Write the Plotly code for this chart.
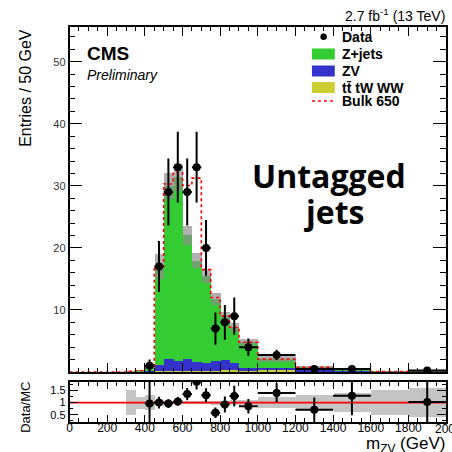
import plotly.graph_objects as go

W = H = 452

# ---------------- data ----------------
edges = [0, 50, 100, 150, 200, 250, 300, 350, 400, 450, 500, 550, 600, 650, 700,
         750, 800, 850, 900, 1000, 1200, 1400, 1600, 1800, 2000]
ttbar = [0, 0, 0, 0, 0, 0, 0.03, 0.04, 0.1, 0.1, 0.1, 0.15, 0.15, 0.15, 0.2,
         0.2, 0.4, 0.4, 0.15, 0.25, 0.1, 0.05, 0.02, 0.02]
zv = [0, 0, 0, 0, 0, 0, 0.02, 0.04, 0.1, 1.0, 2.0, 1.7, 1.9, 1.4, 1.3,
      1.5, 1.5, 1.1, 0.5, 0.35, 0.25, 0.15, 0.02, 0.04]
zjets = [0, 0, 0, 0, 0, 0, 0.05, 0.12, 0.7, 15.9, 27.9, 29.5, 20.0, 16.4, 13.9,
         10.1, 7.1, 5.7, 4.15, 1.5, 0.4, 0.25, 0.04, 0.14]
bulk650 = [0, 0, 0, 0, 0, 0, 0, 0, 0, 0, 0.3, 0.8, 8.0, 13.3, 1.1,
           0.2, 0, 0, 0, 0, 0, 0, 0, 0]
mc_unc = [0, 0, 0, 0, 0, 0, 0.5, 0.25, 0.3, 0.12, 0.07, 0.07, 0.07, 0.07, 0.07,
          0.08, 0.08, 0.1, 0.1, 0.22, 0.3, 0.4, 0.5, 0.6]

data_x = [425, 475, 525, 575, 625, 675, 725, 775, 825, 875, 950, 1100, 1300, 1500, 1900]
data_xerr = [25, 25, 25, 25, 25, 25, 25, 25, 25, 25, 50, 100, 100, 100, 100]
data_y = [1, 17, 29, 33, 29, 33, 20, 7, 8, 9, 4, 2.75, 0.5, 0.5, 0.25]
data_yerr = [1, 4.1, 5.4, 5.7, 5.4, 5.7, 4.5, 2.6, 2.8, 3.0, 1.4, 0.83, 0.35, 0.35, 0.25]
ratio_y = [0.96, 1.0, 0.96, 1.05, 1.35, 1.86, 1.3, 0.58, 0.92, 1.27, 0.85, 1.4, 0.71, 1.28, 1.03]
ratio_err = [1.1, 0.24, 0.18, 0.18, 0.25, 0.32, 0.29, 0.22, 0.33, 0.43, 0.3, 0.4, 0.5, 0.8, 1.0]

x_ticks = [0, 200, 400, 600, 800, 1000, 1200, 1400, 1600, 1800, 2000]
y_ticks = [10, 20, 30, 40, 50]
r_ticks = [0.5, 1, 1.5]
r_ticktext = ["0.5", "1", "1.5"]

# ---------------- derived ----------------
centers = [(a + b) / 2 for a, b in zip(edges[:-1], edges[1:])]
widths = [b - a for a, b in zip(edges[:-1], edges[1:])]
base_zv = list(ttbar)
base_zj = [a + b for a, b in zip(ttbar, zv)]
total = [a + b + c for a, b, c in zip(ttbar, zv, zjets)]
band_lo = [t * (1 - u) for t, u in zip(total, mc_unc)]
band_h = [2 * t * u for t, u in zip(total, mc_unc)]
sig_tot = [t + s for t, s in zip(total, bulk650)]
rband_lo = [1 - u if u > 0 else None for u in mc_unc]
rband_h = [2 * u if u > 0 else None for u in mc_unc]

GREEN = "#33CC33"
BLUE = "#3333CC"
YELLOW = "#CCCC33"
GRAY = "rgba(140,140,140,0.68)"
FONT = "Liberation Sans, Arial, sans-serif"

def px(x):
    return x / W

def py(y):
    return 1 - y / H

fig = go.Figure()

for vals, base, col in [(ttbar, [0] * len(ttbar), YELLOW), (zv, base_zv, BLUE), (zjets, base_zj, GREEN)]:
    fig.add_trace(go.Bar(x=centers, y=vals, base=base, width=widths, marker=dict(color=col, line=dict(width=0)),
                         xaxis="x", yaxis="y", showlegend=False))
fig.add_trace(go.Bar(x=centers, y=band_h, base=band_lo, width=widths,
                     marker=dict(color=GRAY, line=dict(width=0)), xaxis="x", yaxis="y", showlegend=False))
fig.add_trace(go.Scatter(x=edges, y=sig_tot + [sig_tot[-1]], mode="lines", line=dict(shape="hv", color="red", width=1.6, dash="dot"),
                         xaxis="x", yaxis="y", showlegend=False))
fig.add_trace(go.Scatter(x=data_x, y=data_y, mode="markers",
                         marker=dict(color="black", size=8),
                         error_y=dict(type="data", array=data_yerr, color="black", thickness=2, width=0),
                         error_x=dict(type="data", array=data_xerr, color="black", thickness=2, width=0),
                         xaxis="x", yaxis="y", showlegend=False, cliponaxis=True))

# ratio panel
fig.add_trace(go.Bar(x=centers, y=rband_h, base=rband_lo, width=widths,
                     marker=dict(color="rgba(150,150,150,0.55)", line=dict(width=0)), xaxis="x2", yaxis="y2", showlegend=False))
fig.add_trace(go.Scatter(x=[edges[0], edges[-1]], y=[1, 1], mode="lines", line=dict(color="red", width=1.6),
                         xaxis="x2", yaxis="y2", showlegend=False))
fig.add_trace(go.Scatter(x=data_x, y=ratio_y, mode="markers",
                         marker=dict(color="black", size=8),
                         error_y=dict(type="data", array=ratio_err, color="black", thickness=2, width=0),
                         error_x=dict(type="data", array=data_xerr, color="black", thickness=2, width=0),
                         xaxis="x2", yaxis="y2", showlegend=False, cliponaxis=True))

xdom = [px(67), px(446)]
axis_common = dict(showline=True, linecolor="black", linewidth=1.5, mirror="ticks", ticks="inside",
                   tickcolor="black", showgrid=False, zeroline=False)

fig.update_layout(
    width=W, height=H, margin=dict(l=0, r=0, t=0, b=0),
    paper_bgcolor="white", plot_bgcolor="white", barmode="overlay", bargap=0,
    font=dict(family=FONT, color="black"),
    xaxis=dict(domain=xdom, range=[0, 2000], anchor="y", tickvals=x_ticks, showticklabels=False,
               ticklen=9, tickwidth=1.2, minor=dict(dtick=50, tick0=0, ticklen=4, ticks="inside", tickcolor="black"),
               **axis_common),
    yaxis=dict(domain=[py(372), py(27)], range=[0, 55.6], anchor="x", tickvals=y_ticks,
               ticklen=13, tickwidth=1.2, tickfont=dict(size=11, color="#333"),
               minor=dict(dtick=2, tick0=0, ticklen=6, ticks="inside", tickcolor="black"),
               **axis_common),
    xaxis2=dict(domain=xdom, range=[0, 2000], anchor="y2", tickvals=x_ticks, ticklen=7, tickwidth=1.2,
                tickfont=dict(size=12), ticklabelstandoff=-6,
                minor=dict(dtick=50, tick0=0, ticklen=4, ticks="inside", tickcolor="black"),
                **axis_common),
    yaxis2=dict(domain=[py(422), py(382)], range=[0.2, 1.85], anchor="x2", tickvals=r_ticks, ticktext=r_ticktext,
                ticklen=9, tickwidth=1.2, tickfont=dict(size=11),
                minor=dict(dtick=0.25, tick0=0, ticklen=4, ticks="inside", tickcolor="black"),
                **axis_common),
)

ann = []
ann.append(dict(text="Entries / 50 GeV", x=px(22), y=py(27), xref="paper", yref="paper", xanchor="center", yanchor="top",
                textangle=-90, showarrow=False, font=dict(size=16, family=FONT)))
ann.append(dict(text="Data/MC", x=px(22), y=py(407), xref="paper", yref="paper", xanchor="center", yanchor="middle",
                textangle=-90, showarrow=False, font=dict(size=13, family=FONT)))
ann.append(dict(text="m<sub>ZV</sub> (GeV)", x=px(447), y=py(445), xref="paper", yref="paper", xanchor="right", yanchor="middle",
                showarrow=False, font=dict(size=17, family=FONT)))
ann.append(dict(text="2.7 fb<sup>-1</sup> (13 TeV)", x=px(447), y=py(15), xref="paper", yref="paper", xanchor="right",
                yanchor="middle", showarrow=False, font=dict(size=14, family=FONT)))
ann.append(dict(text="<b>CMS</b>", x=px(83), y=py(54), xref="paper", yref="paper", xanchor="left", yanchor="middle",
                showarrow=False, font=dict(size=19, family=FONT)))
ann.append(dict(text="<i>Preliminary</i>", x=px(83), y=py(75), xref="paper", yref="paper", xanchor="left", yanchor="middle",
                showarrow=False, font=dict(size=14, family=FONT)))
ann.append(dict(text="<b>Untagged</b>", x=px(328), y=py(176), xref="paper", yref="paper", xanchor="center", yanchor="middle",
                showarrow=False, font=dict(size=32, family="Open Sans")))
ann.append(dict(text="<b>jets</b>", x=px(333), y=py(211), xref="paper", yref="paper", xanchor="center", yanchor="middle",
                showarrow=False, font=dict(size=32, family="Open Sans")))
# last x tick label, which runs past the page edge in the reference: clipped by a fixed-width box
ann.append(dict(text=str(x_ticks[-1]), x=px(433), y=py(429), xref="paper", yref="paper", xanchor="left", yanchor="middle",
                width=18, align="left", showarrow=False, font=dict(size=12, family=FONT)))

leg_labels = ["Data", "Z+jets", "ZV", "tt\u0304 tW WW", "Bulk 650"]
leg_y = [36.5, 54, 71, 87.5, 101]
for lab, yy in zip(leg_labels, leg_y):
    ann.append(dict(text="<b>" + lab + "</b>", x=px(339), y=py(yy), xref="paper", yref="paper", xanchor="left",
                    yanchor="middle", showarrow=False, font=dict(size=14, family=FONT)))
fig.update_layout(annotations=ann)

shapes = []
shapes.append(dict(type="circle", xref="paper", yref="paper", x0=px(319.5), x1=px(326), y0=py(40), y1=py(33.5),
                   fillcolor="black", line=dict(width=0)))
for col, yy in [(GREEN, 54), (BLUE, 71), (YELLOW, 87.5)]:
    shapes.append(dict(type="rect", xref="paper", yref="paper", x0=px(311), x1=px(334), y0=py(yy + 5.5), y1=py(yy - 5.5),
                       fillcolor=col, line=dict(width=0)))
shapes.append(dict(type="line", xref="paper", yref="paper", x0=px(311), x1=px(334), y0=py(101), y1=py(101),
                   line=dict(color="red", width=1.6, dash="dot")))
fig.update_layout(shapes=shapes)

fig.write_html("out.html")
